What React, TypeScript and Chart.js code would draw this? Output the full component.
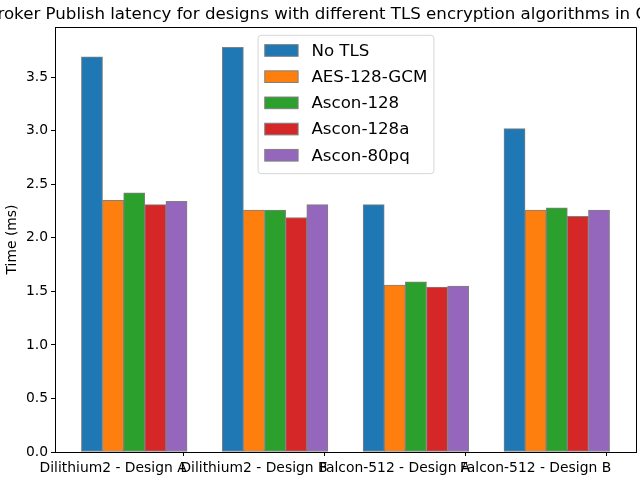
import React, { useEffect, useRef } from "react";
import { Chart, registerables } from "chart.js";

Chart.register(...registerables);

const TITLE = "Broker Publish latency for designs with different TLS encryption algorithms in Cloud";
const Y_LABEL = "Time (ms)";
const CATEGORIES = [
  "Dilithium2 - Design A",
  "Dilithium2 - Design B",
  "Falcon-512 - Design A",
  "Falcon-512 - Design B",
];
const SERIES_NAMES = ["No TLS", "AES-128-GCM", "Ascon-128", "Ascon-128a", "Ascon-80pq"];
const NO_TLS = [3.69, 3.78, 2.31, 3.02];
const AES_128_GCM = [2.35, 2.26, 1.56, 2.26];
const ASCON_128 = [2.42, 2.26, 1.59, 2.28];
const ASCON_128A = [2.31, 2.19, 1.54, 2.2];
const ASCON_80PQ = [2.34, 2.31, 1.55, 2.26];
const SERIES = [NO_TLS, AES_128_GCM, ASCON_128, ASCON_128A, ASCON_80PQ];
const COLORS = ["#1f77b4", "#ff7f0e", "#2ca02c", "#d62728", "#9467bd"];
const Y_TICK_STEP = 0.5;

const BAR_W = 0.15;
const FONT = "'DejaVu Sans', sans-serif";

export default function App() {
  const ref = useRef<HTMLCanvasElement | null>(null);

  useEffect(() => {
    if (!ref.current) return;
    const nBars = SERIES.length;
    const xMinData = -BAR_W / 2;
    const xMaxData = CATEGORIES.length - 1 + (nBars - 1) * BAR_W + BAR_W / 2;
    const xPad = (xMaxData - xMinData) * 0.05;
    const yMax = Math.max(...SERIES.flat()) * 1.05;

    const framePlugin = {
      id: "frame",
      afterDraw(chart: any) {
        const { ctx, chartArea } = chart;
        const { left, right, top, bottom } = chartArea;
        ctx.save();
        // spines
        ctx.strokeStyle = "#000";
        ctx.lineWidth = 1;
        ctx.beginPath();
        ctx.moveTo(Math.round(left) + 0.5, Math.round(bottom) + 0.5);
        ctx.lineTo(Math.round(left) + 0.5, Math.round(top) + 0.5);
        ctx.lineTo(Math.round(right) + 0.5, Math.round(top) + 0.5);
        ctx.lineTo(Math.round(right) + 0.5, Math.round(bottom) + 0.5);
        ctx.stroke();

        // title
        const cx = (left + right) / 2;
        ctx.fillStyle = "#000";
        ctx.font = `16.67px ${FONT}`;
        ctx.textAlign = "center";
        ctx.textBaseline = "alphabetic";
        ctx.fillText(TITLE, cx - 11, top - 8.5);

        // legend (upper center)
        const fs = 16.67;
        ctx.font = `${fs}px ${FONT}`;
        const labels = chart.data.datasets.map((d: any) => d.label);
        const textW = Math.max(...labels.map((l: string) => ctx.measureText(l).width));
        const pad = 0.4 * fs;
        const hw = 2.0 * fs;
        const hh = 0.7 * fs;
        const htp = 0.8 * fs;
        const rowH = 26.2;
        const w = pad + hw + htp + textW + pad;
        const h = labels.length * rowH + 2 * pad - 0.3 * fs - 1;
        const lx = cx - w / 2 + 0.5;
        const ly = top + 8.3;
        ctx.globalAlpha = 0.8;
        ctx.fillStyle = "#fff";
        ctx.strokeStyle = "#cccccc";
        ctx.beginPath();
        (ctx as any).roundRect(lx, ly, w, h, 3);
        ctx.fill();
        ctx.stroke();
        ctx.globalAlpha = 1;
        ctx.textAlign = "left";
        ctx.textBaseline = "middle";
        labels.forEach((l: string, i: number) => {
          const cy = ly + pad + 8.5 + i * rowH;
          ctx.fillStyle = chart.data.datasets[i].backgroundColor;
          ctx.fillRect(lx + pad, cy - hh / 2, hw, hh);
          ctx.strokeStyle = "grey";
          ctx.lineWidth = 1;
          ctx.strokeRect(lx + pad, cy - hh / 2, hw, hh);
          ctx.fillStyle = "#000";
          ctx.fillText(l, lx + pad + hw + htp, cy + 1);
        });
        ctx.restore();
      },
    };

    const chart = new Chart(ref.current, {
      type: "bar",
      data: {
        datasets: SERIES.map((vals, k) => ({
          label: SERIES_NAMES[k],
          data: vals.map((v, i) => ({ x: i + k * BAR_W, y: v })),
          backgroundColor: COLORS[k],
          borderColor: "grey",
          borderWidth: 1,
          borderSkipped: false,
          grouped: false,
          barPercentage: 1,
          categoryPercentage: 1,
        })),
      },
      options: {
        responsive: false,
        animation: false,
        devicePixelRatio: 1,
        layout: { padding: { top: 27, right: 4, left: 0, bottom: 0 } },
        plugins: {
          legend: { display: false },
          title: { display: false },
          tooltip: { enabled: false },
        },
        scales: {
          x: {
            type: "linear",
            offset: false,
            min: xMinData - xPad,
            max: xMaxData + xPad,
            afterBuildTicks: (scale: any) => {
              scale.ticks = CATEGORIES.map((_, i) => ({ value: i + BAR_W }));
            },
            afterFit: (scale: any) => {
              scale.height = 28;
            },
            ticks: {
              autoSkip: false,
              maxRotation: 0,
              minRotation: 0,
              padding: 4,
              color: "#000",
              font: { family: FONT, size: 13.89 },
              callback: (v: any) => CATEGORIES[Math.round(Number(v) - BAR_W)] ?? "",
            },
            grid: {
              drawOnChartArea: false,
              drawTicks: true,
              tickLength: 4,
              color: "#000",
              tickColor: "#000",
            },
            border: { display: true, color: "#000", width: 1 },
          },
          y: {
            min: 0,
            max: yMax,
            afterFit: (scale: any) => {
              scale.width = 55;
            },
            ticks: {
              stepSize: Y_TICK_STEP,
              includeBounds: false,
              padding: 3,
              color: "#000",
              font: { family: FONT, size: 13.89 },
              callback: (v: any) => Number(v).toFixed(1),
            },
            grid: {
              drawOnChartArea: false,
              drawTicks: true,
              tickLength: 4,
              color: "#000",
              tickColor: "#000",
            },
            border: { display: true, color: "#000", width: 1 },
            title: {
              display: true,
              text: Y_LABEL,
              color: "#000",
              font: { family: FONT, size: 13.89 },
              padding: { top: 4, bottom: 0 },
            },
          },
        },
      },
      plugins: [framePlugin],
    });
    return () => chart.destroy();
  }, []);

  return (
    <div style={{ position: "fixed", left: 0, top: 0, width: 640, height: 480, background: "#fff" }}>
      <canvas ref={ref} width={640} height={480} />
    </div>
  );
}
